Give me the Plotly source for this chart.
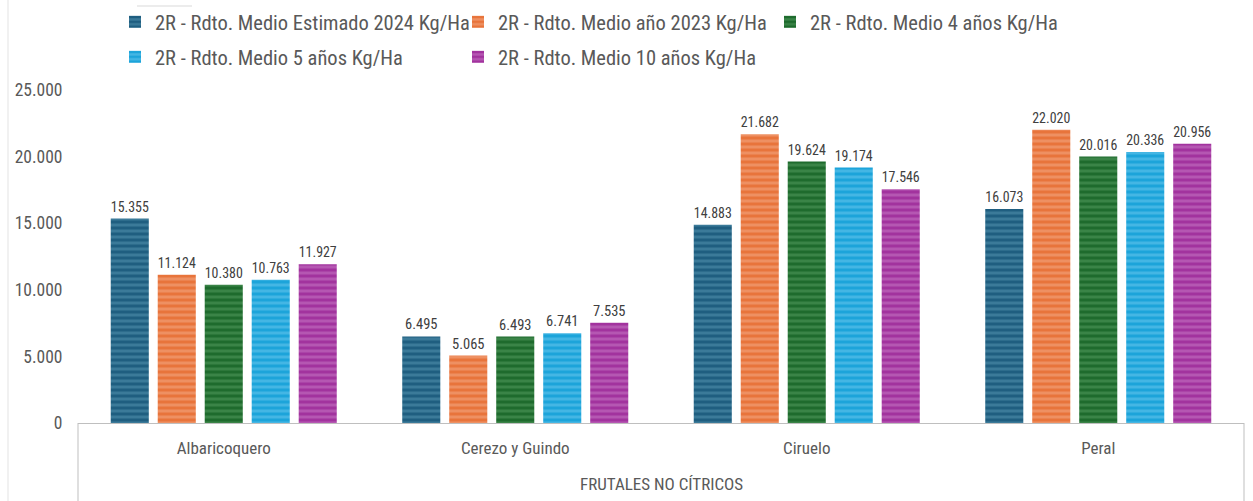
import plotly.graph_objects as go

categories = ["Albaricoquero", "Cerezo y Guindo", "Ciruelo", "Peral"]
group_label = "FRUTALES NO CÍTRICOS"

series_names = [
    "2R - Rdto. Medio Estimado 2024 Kg/Ha",
    "2R - Rdto. Medio año 2023 Kg/Ha",
    "2R - Rdto. Medio 4 años Kg/Ha",
    "2R - Rdto. Medio 5 años Kg/Ha",
    "2R - Rdto. Medio 10 años Kg/Ha",
]
est_2024 = [15355, 6495, 14883, 16073]
ano_2023 = [11124, 5065, 21682, 22020]
medio_4 = [10380, 6493, 19624, 20016]
medio_5 = [10763, 6741, 19174, 20336]
medio_10 = [11927, 7535, 17546, 20956]
series_values = [est_2024, ano_2023, medio_4, medio_5, medio_10]

y_ticks = [0, 5000, 10000, 15000, 20000, 25000]

base_colors = ["#1F5E80", "#E8743B", "#1E6B2D", "#1CA4DA", "#A2339E"]
stripe_colors = ["#3B7A99", "#EE9062", "#3A8447", "#44B6E4", "#B557B2"]

FONT = "Liberation Sans Narrow, Roboto Condensed, Roboto, Arial, sans-serif"
TXT = "#595959"

# plot area geometry (pixels)
W, H = 1253, 501
L, R, T, B = 78, 9, 90, 78
PW, PH = W - L - R, H - T - B

# legend placement (pixel positions of legend left edge / centre y)
legend_pos = [(115, 22), (458, 22), (770, 22), (115, 57), (458, 57)]

fig = go.Figure()
for i, (name, vals) in enumerate(zip(series_names, series_values)):
    lg = "legend" if i == 0 else f"legend{i+1}"
    fig.add_trace(go.Bar(
        name=name,
        x=categories,
        y=vals,
        legend=lg,
        marker=dict(
            color=base_colors[i],
            line=dict(width=0),
            pattern=dict(shape="-", bgcolor=base_colors[i], fgcolor=stripe_colors[i],
                         size=6, solidity=0.5, fillmode="replace"),
        ),
        texttemplate="%{y:,.0f}",
        textposition="outside",
        textfont=dict(size=14.5, color="#404040", family=FONT),
        cliponaxis=False,
        hovertemplate="%{x}<br>%{y:,.0f}<extra>" + name + "</extra>",
    ))

layout_legends = {}
for i, (px, py) in enumerate(legend_pos):
    key = "legend" if i == 0 else f"legend{i+1}"
    layout_legends[key] = dict(
        x=(px - L) / PW, xanchor="left",
        y=(H - B - py) / PH, yanchor="middle",
        orientation="h",
        font=dict(size=20.5, color=TXT, family=FONT),
        bgcolor="rgba(0,0,0,0)",
        itemclick=False, itemdoubleclick=False,
    )

fig.update_layout(
    width=W, height=H,
    margin=dict(l=L, r=R, t=T, b=B, autoexpand=False),
    paper_bgcolor="white", plot_bgcolor="white",
    separators=",.",
    barmode="group",
    bargap=0.194,
    bargroupgap=0.19,
    font=dict(family=FONT, color=TXT),
    showlegend=True,
    **layout_legends,
)

fig.update_yaxes(
    range=[0, 25000],
    tickvals=y_ticks,
    tickformat=",.0f",
    showgrid=False, zeroline=False, showline=False,
    ticks="outside", ticklen=11, tickcolor="rgba(0,0,0,0)",
    tickfont=dict(size=17.5, color=TXT, family=FONT),
    automargin=False,
)
fig.update_xaxes(
    type="category",
    showgrid=False, showline=True, linecolor="#BFBFBF", linewidth=1,
    ticks="outside", ticklen=10, tickcolor="rgba(0,0,0,0)",
    tickfont=dict(size=17, color=TXT, family=FONT),
    automargin=False,
)

# box lines under the category axis
ybot = -B / PH
for xp in (0, 1):
    fig.add_shape(type="line", xref="paper", yref="paper", x0=xp, x1=xp, y0=0, y1=ybot,
                  line=dict(color="#BFBFBF", width=1))
# outer chart frame (left edge) and small top mark
fig.add_shape(type="line", xref="paper", yref="paper",
              x0=(8 - L) / PW, x1=(8 - L) / PW, y0=ybot, y1=(H - B) / PH,
              line=dict(color="#E3E3E3", width=1))
fig.add_shape(type="line", xref="paper", yref="paper",
              x0=(137 - L) / PW, x1=(192 - L) / PW,
              y0=(H - B - 6) / PH, y1=(H - B - 6) / PH,
              line=dict(color="#D9D9D9", width=1))

fig.add_annotation(
    text=group_label, xref="paper", yref="paper",
    x=(661 - L) / PW, y=(H - B - 484) / PH, xanchor="center", yanchor="middle",
    showarrow=False, font=dict(size=17, color=TXT, family=FONT),
)

fig.write_html("out.html", config={"displayModeBar": False},
               post_script="document.body.style.margin='0';")
